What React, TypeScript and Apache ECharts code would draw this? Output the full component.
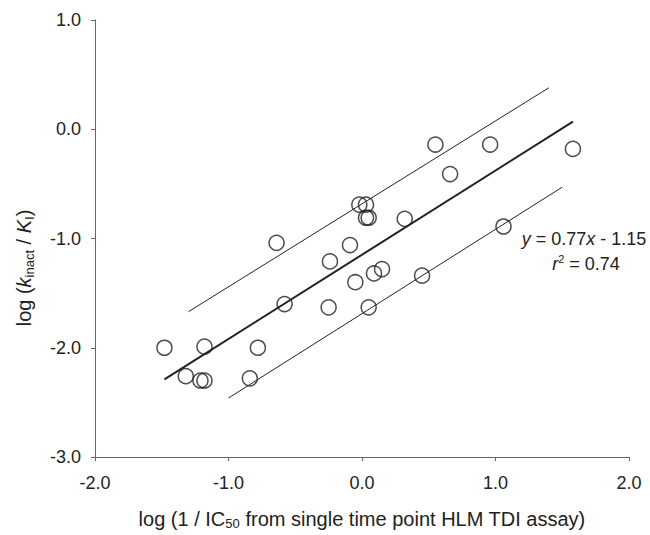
import React, { useEffect, useRef } from "react";
import * as echarts from "echarts";

const pointX = [-1.48, -1.32, -1.21, -1.18, -1.18, -0.84, -0.78, -0.64, -0.58, -0.25, -0.24, -0.09, -0.05, -0.02, 0.03, 0.03, 0.05, 0.05, 0.09, 0.15, 0.32, 0.45, 0.55, 0.66, 0.96, 1.06, 1.58];
const pointY = [-2.0, -2.26, -2.3, -2.3, -1.99, -2.28, -2.0, -1.04, -1.6, -1.63, -1.21, -1.06, -1.4, -0.69, -0.69, -0.81, -0.81, -1.63, -1.32, -1.28, -0.82, -1.34, -0.14, -0.41, -0.14, -0.89, -0.18];

const fitLine = [[-1.48, -2.29], [1.58, 0.07]];
const upperLine = [[-1.3, -1.67], [1.4, 0.38]];
const lowerLine = [[-1.0, -2.46], [1.5, -0.53]];

const xTicks = { min: -2, max: 2, interval: 1 };
const yTicks = { min: -3, max: 1, interval: 1 };

const FONT = "Liberation Sans, Arial, sans-serif";
const TXT = "#222";

export default function App() {
  const ref = useRef<HTMLDivElement>(null);
  useEffect(() => {
    if (!ref.current) return;
    const chart = echarts.init(ref.current, undefined, { renderer: "svg" });
    const axisCommon = {
      type: "value" as const,
      axisLine: { show: true, onZero: false, lineStyle: { color: "#666", width: 1 } },
      axisTick: { show: true, inside: false, length: 4, lineStyle: { color: "#666" } },
      splitLine: { show: false },
      axisLabel: { color: TXT, fontSize: 18, fontFamily: FONT, formatter: (v: number) => v.toFixed(1) },
    };
    chart.setOption({
      animation: false,
      grid: { left: 95, right: 21, top: 20, bottom: 78 },
      xAxis: { ...axisCommon, ...xTicks, axisLabel: { ...axisCommon.axisLabel, margin: 17 } },
      yAxis: { ...axisCommon, ...yTicks, axisLabel: { ...axisCommon.axisLabel, margin: 14 } },
      series: [
        { type: "line", data: fitLine, symbol: "none", lineStyle: { color: "#222", width: 2 } },
        { type: "line", data: upperLine, symbol: "none", lineStyle: { color: "#222", width: 1 } },
        { type: "line", data: lowerLine, symbol: "none", lineStyle: { color: "#222", width: 1 } },
        {
          type: "scatter",
          data: pointX.map((x, i) => [x, pointY[i]]),
          symbol: "circle",
          symbolSize: 15,
          itemStyle: { color: "rgba(0,0,0,0)", borderColor: "#222", borderWidth: 1.5 },
          z: 5,
        },
      ],
      graphic: [
        {
          type: "text",
          x: 362,
          y: 519,
          style: {
            text: "{n|log (1 / IC}{s|50}{n| from single time point HLM TDI assay)}",
            fill: TXT,
            align: "center",
            verticalAlign: "middle",
            rich: {
              n: { fontSize: 20, fontFamily: FONT, fill: TXT, lineHeight: 22 },
              s: { fontSize: 13, fontFamily: FONT, fill: TXT, lineHeight: 10, verticalAlign: "bottom" },
            },
          },
        },
        {
          type: "text",
          x: 24,
          y: 268,
          rotation: Math.PI / 2,
          style: {
            text: "{n|log (}{i|k}{s|inact}{n| / }{i|K}{s|I}{n|)}",
            fill: TXT,
            align: "center",
            verticalAlign: "middle",
            rich: {
              n: { fontSize: 20, fontFamily: FONT, fill: TXT, lineHeight: 24 },
              i: { fontSize: 20, fontFamily: FONT, fill: TXT, lineHeight: 24, fontStyle: "italic" },
              s: { fontSize: 13, fontFamily: FONT, fill: TXT, lineHeight: 11, verticalAlign: "bottom" },
            },
          },
        },
        {
          type: "text",
          x: 584,
          y: 239,
          style: {
            text: "{i|y}{n| = 0.77}{i|x}{n| - 1.15}",
            fill: TXT,
            align: "center",
            verticalAlign: "middle",
            rich: {
              n: { fontSize: 18, fontFamily: FONT, fill: TXT, lineHeight: 22 },
              i: { fontSize: 18, fontFamily: FONT, fill: TXT, lineHeight: 22, fontStyle: "italic" },
            },
          },
        },
        {
          type: "text",
          x: 586,
          y: 264,
          style: {
            text: "{i|r}{p|2}{n| = 0.74}",
            fill: TXT,
            align: "center",
            verticalAlign: "middle",
            rich: {
              n: { fontSize: 18, fontFamily: FONT, fill: TXT, lineHeight: 22 },
              i: { fontSize: 18, fontFamily: FONT, fill: TXT, lineHeight: 22, fontStyle: "italic" },
              p: { fontSize: 11, fontFamily: FONT, fill: TXT, lineHeight: 12, verticalAlign: "top" },
            },
          },
        },
      ],
    });
    return () => chart.dispose();
  }, []);
  return <div ref={ref} style={{ position: "absolute", left: 0, top: 0, width: 650, height: 535 }} />;
}
